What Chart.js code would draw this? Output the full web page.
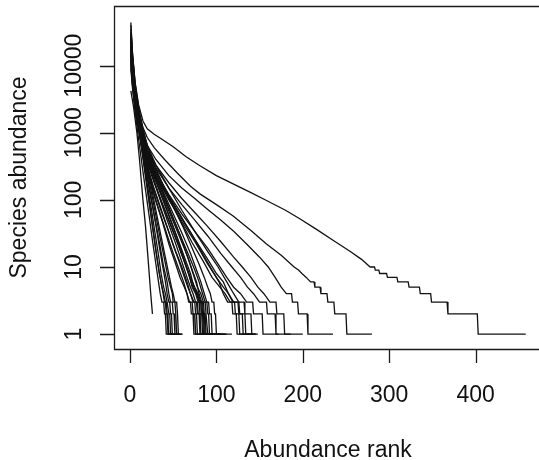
<!DOCTYPE html>
<html>
<head>
<meta charset="utf-8">
<script src="https://cdn.jsdelivr.net/npm/chart.js@4.4.1/dist/chart.umd.min.js"></script>
<style>
  html, body { margin: 0; padding: 0; background: #fff; }
  #wrap { width: 539px; height: 460px; }
</style>
</head>
<body>
<div id="wrap"><canvas id="rankChart" width="539" height="460"></canvas></div>
<script>
// Rank-abundance curves, one per site: [rank, abundance]
const site01 = [[1,4200],[4,2500],[8,1000],[11,400],[13,200],[15,100],[18,40],[21,13],[24,4],[26,2]];

const site02 = [[1,11000],[3,5000],[6,2000],[10,800],[14,330],[18,140],[22,60],[26,25],[30,11],[33,6],[35,4],[37,3],[39,3],[40,2],[41,2],[42,1],[50,1]];
const site03 = [[1,23000],[3,9000],[6,3300],[10,1300],[14,560],[18,240],[22,100],[26,42],[30,18],[34,8],[37,5],[39,4],[41,3],[42,2],[43,2],[44,1],[55,1]];
const site04 = [[1,16000],[3,7000],[6,2800],[10,1200],[15,450],[20,170],[25,70],[29,32],[33,15],[36,8],[39,5],[41,4],[43,3],[44,3],[45,2],[46,2],[47,1],[52,1]];
const site05 = [[1,30000],[3,11000],[6,4000],[10,1600],[15,620],[20,240],[25,100],[30,42],[34,20],[38,10],[41,6],[43,4],[45,3],[46,3],[47,2],[48,2],[49,1],[58,1]];
const site06 = [[1,13000],[3,6000],[6,2500],[10,1100],[15,480],[20,210],[25,95],[30,44],[35,20],[39,10],[43,6],[45,4],[47,3],[49,3],[50,2],[51,2],[52,1],[60,1]];
const site07 = [[1,20000],[3,8500],[6,3300],[10,1400],[15,600],[20,270],[25,125],[30,58],[35,27],[40,13],[44,7],[47,5],[49,4],[50,3],[52,3],[53,2],[54,1],[57,1]];
const site08 = [[1,26000],[3,10000],[6,3800],[10,1600],[15,700],[20,320],[25,150],[30,70],[35,33],[40,16],[44,9],[48,5],[50,4],[52,3],[54,3],[55,2],[56,1],[61,1]];
const site09 = [[1,18000],[3,7500],[6,3000],[10,1200],[14,520],[18,220],[22,95],[26,40],[30,17],[34,8],[37,5],[40,3],[42,3],[43,2],[44,2],[45,1],[49,1]];

const site10 = [[1,20000],[3,8000],[6,3000],[10,1400],[15,650],[20,330],[25,170],[30,95],[38,45],[45,22],[52,12],[58,7],[63,5],[66,4],[68,3],[70,3],[71,2],[73,2],[74,1],[82,1]];
const site11 = [[1,15000],[3,6800],[6,2700],[10,1250],[15,560],[20,280],[27,130],[35,62],[43,30],[50,16],[57,9],[62,6],[66,4],[69,3],[72,3],[73,2],[75,2],[76,1],[86,1]];
const site12 = [[1,14000],[3,6500],[6,2800],[10,1300],[15,620],[20,330],[27,160],[35,80],[43,40],[50,21],[57,12],[63,7],[67,5],[70,4],[73,3],[75,3],[76,2],[77,2],[78,1],[90,1]];
const site13 = [[1,26000],[3,10000],[6,3800],[10,1700],[15,800],[20,420],[27,210],[35,100],[43,50],[52,24],[60,12],[66,7],[70,5],[73,4],[76,3],[78,3],[79,2],[80,2],[81,1],[95,1]];
const site14 = [[1,9000],[3,4500],[6,2200],[10,1100],[15,560],[20,300],[27,150],[35,75],[45,33],[53,17],[60,10],[66,6],[70,4],[74,3],[77,3],[78,2],[81,2],[82,1],[88,1]];
const site15 = [[1,32000],[3,12000],[6,4400],[10,2000],[15,900],[20,480],[28,230],[36,120],[45,58],[54,28],[62,14],[68,8],[72,5],[76,4],[79,3],[80,3],[81,2],[83,2],[84,1],[100,1]];
const site16 = [[1,17000],[3,7500],[6,3100],[10,1500],[15,720],[20,390],[28,190],[36,100],[45,50],[55,23],[63,12],[69,7],[73,5],[77,4],[80,3],[82,3],[83,2],[84,2],[85,1],[97,1]];
const site17 = [[1,22000],[3,9000],[6,3500],[10,1600],[15,800],[20,450],[28,220],[37,110],[46,55],[55,27],[64,13],[70,8],[74,5],[78,4],[81,3],[83,3],[84,2],[85,2],[86,1],[104,1]];
const site18 = [[1,12000],[3,5800],[6,2600],[10,1250],[15,640],[20,360],[28,180],[37,88],[47,42],[56,21],[64,11],[70,7],[75,5],[79,4],[82,3],[84,3],[85,2],[86,2],[87,1],[93,1]];
const site19 = [[1,40000],[3,14000],[6,5000],[10,2200],[15,1000],[20,560],[28,270],[38,130],[48,62],[58,30],[66,15],[72,9],[77,6],[80,4],[83,3],[85,3],[86,2],[87,2],[88,1],[110,1]];
const site20 = [[1,19000],[3,8000],[6,3200],[10,1500],[15,760],[20,430],[28,220],[38,110],[48,55],[58,27],[67,14],[73,8],[78,5],[82,4],[85,3],[87,3],[88,2],[89,2],[90,1],[106,1]];
const site21 = [[1,21000],[3,8800],[6,3400],[10,1600],[15,820],[20,470],[28,240],[38,120],[48,60],[58,30],[68,15],[75,9],[80,6],[84,4],[87,3],[89,3],[90,2],[91,2],[92,1],[102,1]];
const site22 = [[1,25000],[3,10000],[6,3900],[10,1800],[15,900],[20,500],[28,260],[38,135],[50,62],[60,32],[70,16],[77,9],[82,6],[86,4],[89,3],[91,3],[92,2],[94,2],[95,1],[112,1]];
const site23 = [[1,44000],[3,15000],[6,5500],[10,2400],[15,1150],[20,650],[28,330],[38,170],[50,80],[62,38],[72,19],[80,11],[86,7],[90,5],[93,4],[95,3],[97,3],[98,2],[99,2],[100,1],[118,1]];

const site24 = [[1,28000],[3,11000],[6,4200],[10,2000],[15,1000],[20,560],[30,280],[40,150],[55,70],[70,33],[85,15],[95,9],[103,6],[108,4],[113,3],[118,3],[119,2],[123,2],[124,1],[140,1]];
const site25 = [[1,16000],[3,7000],[6,3000],[10,1500],[15,780],[20,450],[30,230],[45,100],[60,48],[75,24],[90,11],[100,7],[108,5],[114,4],[119,3],[125,3],[126,2],[130,2],[131,1],[145,1]];
const site26 = [[1,24000],[3,10000],[6,4000],[10,1900],[15,950],[20,520],[30,250],[45,105],[60,45],[72,23],[85,12],[95,7],[104,5],[110,4],[116,3],[121,3],[122,2],[126,2],[127,1],[143,1]];
const site27 = [[1,10000],[3,5000],[6,2400],[10,1300],[15,700],[20,420],[30,220],[45,110],[60,52],[75,26],[90,13],[100,8],[108,6],[114,4],[120,3],[126,3],[127,2],[133,2],[134,1],[148,1]];
const site28 = [[1,30000],[3,12000],[6,4500],[10,2100],[15,1100],[20,650],[30,330],[45,150],[60,70],[75,34],[90,17],[102,10],[112,6],[120,4],[126,3],[132,3],[133,2],[140,2],[141,1],[146,1]];

const site29 = [[1,12000],[3,6000],[6,2800],[10,1500],[15,800],[20,480],[30,260],[45,120],[60,62],[75,34],[90,19],[102,11],[112,7],[120,5],[128,4],[135,3],[142,3],[143,2],[153,2],[154,1],[172,1]];
const site30 = [[1,20000],[3,8500],[6,3300],[10,1700],[15,900],[20,520],[30,300],[45,150],[60,85],[75,50],[90,29],[105,16],[118,10],[128,7],[136,5],[143,4],[150,3],[158,3],[159,2],[168,2],[169,1],[186,1]];
const site31 = [[1,15000],[3,7000],[6,3000],[10,1600],[15,900],[20,560],[30,330],[45,180],[60,105],[75,65],[90,40],[105,24],[120,14],[130,10],[140,7],[148,5],[155,4],[162,3],[169,3],[170,2],[178,2],[179,1],[200,1]];
const site32 = [[1,18000],[3,8000],[6,3500],[10,1800],[15,1000],[20,650],[30,400],[45,230],[60,150],[75,105],[90,72],[105,50],[120,34],[135,22],[150,14],[160,10],[168,7],[175,5],[181,4],[187,4],[188,3],[194,3],[195,2],[205,2],[206,1],[235,1]];
const site33 = [[1,22000],[3,9000],[6,4000],[10,2000],[15,1200],[20,850],[28,600],[40,400],[55,250],[70,160],[81,123],[100,85],[119,58],[140,35],[158,22],[175,15],[190,10],[195,9],[199,8],[204,7],[209,6],[213,6],[214,5],[220,5],[221,4],[228,4],[229,3],[236,3],[237,2],[250,2],[251,1],[280,1]];
const site34 = [[1,35000],[3,14000],[6,5500],[10,2600],[15,1500],[20,1150],[28,950],[37,800],[50,620],[65,440],[81,322],[100,230],[120,172],[140,128],[158,98],[180,70],[197,52],[215,37],[235,25],[255,17],[268,13],[278,10],[283,10],[284,9],[288,9],[289,8],[297,8],[298,7],[309,7],[310,6],[322,6],[323,5],[335,5],[336,4],[348,4],[349,3],[367,3],[368,2],[402,2],[403,1],[458,1]];

const sites = [site01, site02, site03, site04, site05, site06, site07, site08, site09, site10,
  site11, site12, site13, site14, site15, site16, site17, site18, site19, site20,
  site21, site22, site23, site24, site25, site26, site27, site28, site29, site30,
  site31, site32, site33, site34];

// Axis ticks and titles
const xTicks = [0, 100, 200, 300, 400];
const xTickLabels = ['0', '100', '200', '300', '400'];
const yTicks = [1, 10, 100, 1000, 10000];
const yTickLabels = ['1', '10', '100', '1000', '10000'];
const xTitle = 'Abundance rank';
const yTitle = 'Species abundance';

const FONT = '23px "Liberation Sans", Arial, Helvetica, sans-serif';

// Base-graphics style frame: box on three sides, outward ticks, rotated y labels
const baseAxes = {
    id: 'baseAxes',
    afterDraw(chart) {
        const { ctx, chartArea: a, scales: { x, y } } = chart;
        ctx.save();
        ctx.strokeStyle = '#1a1a1a';
        ctx.lineWidth = 1.3;

        ctx.beginPath();
        ctx.moveTo(chart.width + 2, a.top + 0.5);
        ctx.lineTo(a.left + 0.5, a.top + 0.5);
        ctx.lineTo(a.left + 0.5, a.bottom + 0.5);
        ctx.lineTo(chart.width + 2, a.bottom + 0.5);
        ctx.stroke();

        ctx.fillStyle = '#111';
        ctx.font = FONT;

        // x axis ticks and labels
        ctx.beginPath();
        xTicks.forEach(v => {
            const px = Math.round(x.getPixelForValue(v)) + 0.5;
            ctx.moveTo(px, a.bottom + 1);
            ctx.lineTo(px, a.bottom + 14);
        });
        ctx.stroke();
        ctx.textAlign = 'center';
        ctx.textBaseline = 'alphabetic';
        xTicks.forEach((v, i) => {
            ctx.fillText(xTickLabels[i], x.getPixelForValue(v), a.bottom + 53);
        });

        // y axis ticks and labels
        ctx.beginPath();
        yTicks.forEach(v => {
            const py = Math.round(y.getPixelForValue(v)) + 0.5;
            ctx.moveTo(a.left, py);
            ctx.lineTo(a.left - 14, py);
        });
        ctx.stroke();
        yTicks.forEach((v, i) => {
            ctx.save();
            ctx.translate(a.left - 33, y.getPixelForValue(v));
            ctx.rotate(-Math.PI / 2);
            ctx.fillText(yTickLabels[i], 0, 0);
            ctx.restore();
        });

        // axis titles
        ctx.fillText(xTitle, 328, 457);
        ctx.save();
        ctx.translate(25.5, (a.top + a.bottom) / 2);
        ctx.rotate(-Math.PI / 2);
        ctx.fillText(yTitle, 0, 0);
        ctx.restore();

        ctx.restore();
    }
};

const ctx = document.getElementById('rankChart').getContext('2d');
new Chart(ctx, {
    type: 'line',
    data: {
        datasets: sites.map(s => ({
            data: s.map(p => ({ x: p[0], y: p[1] })),
            borderColor: '#111',
            borderWidth: 1.3,
            pointRadius: 0,
            fill: false,
            tension: 0
        }))
    },
    options: {
        responsive: false,
        animation: false,
        devicePixelRatio: 1,
        layout: { padding: { left: 114, top: 6, right: 0, bottom: 111 } },
        plugins: { legend: { display: false }, tooltip: { enabled: false } },
        scales: {
            x: { type: 'linear', min: -18.5, max: 473.4, display: false },
            y: { type: 'logarithmic', min: 0.642, max: 77450, display: false }
        }
    },
    plugins: [baseAxes]
});
</script>
</body>
</html>
